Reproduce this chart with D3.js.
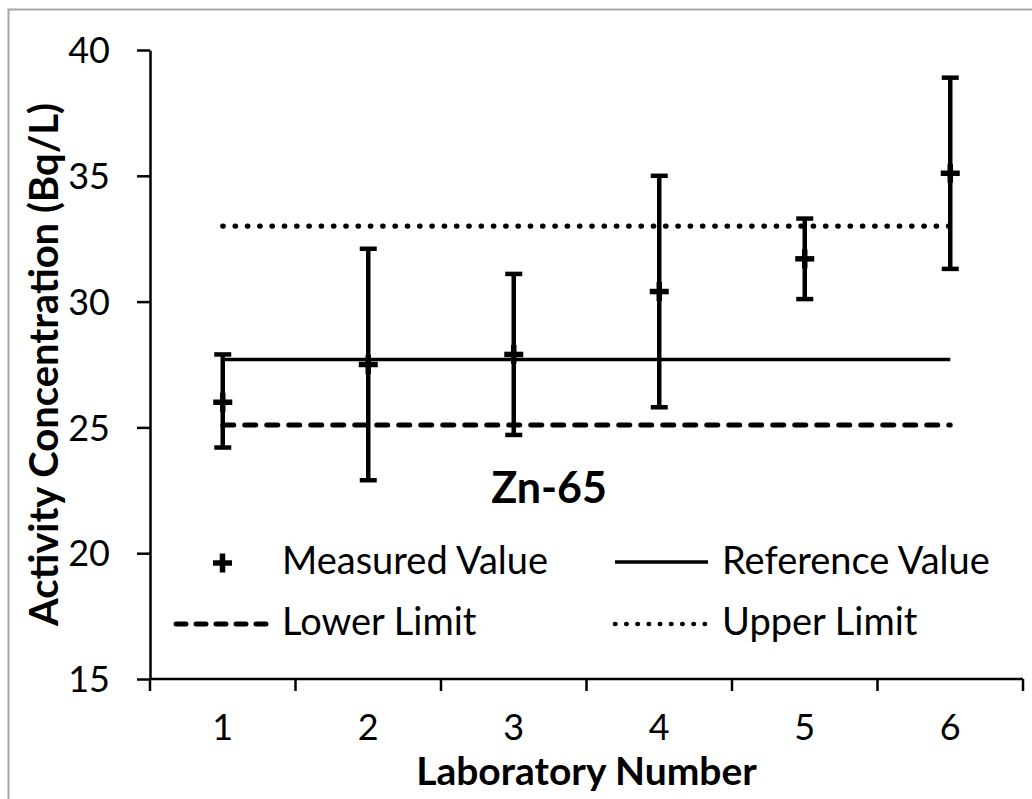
<!DOCTYPE html>
<html>
<head>
<meta charset="utf-8">
<script src="https://cdn.jsdelivr.net/npm/d3@7"></script>
<style>
  html, body { margin: 0; padding: 0; background: #fff; }
  svg { display: block; }
  text { font-family: Lato, "Open Sans", sans-serif; fill: #000; }
</style>
</head>
<body>
<svg id="chart" width="1032" height="799"></svg>
<script>
// Zn-65 inter-laboratory comparison data
const labs = [1, 2, 3, 4, 5, 6];
const measured = [26.0, 27.5, 27.9, 30.4, 31.7, 35.1];
const errHigh = [27.9, 32.1, 31.1, 35.0, 33.3, 38.9];
const errLow = [24.2, 22.9, 24.7, 25.8, 30.1, 31.3];
const referenceValue = 27.7;
const lowerLimit = 25.1;
const upperLimit = 33.0;
const yTicks = [15, 20, 25, 30, 35, 40];

const svg = d3.select("#chart");
const margin = { left: 150, right: 9, top: 50, bottom: 120 };
const W = 1032, H = 799;

// outer frame
svg.append("rect")
  .attr("x", 8.5).attr("y", 9.5)
  .attr("width", 1040).attr("height", 820)
  .attr("fill", "none").attr("stroke", "#a6a6a6").attr("stroke-width", 2);

const x = d3.scaleBand()
  .domain(labs)
  .range([margin.left, W - margin.right])
  .paddingInner(0).paddingOuter(0);

const y = d3.scaleLinear()
  .domain([15, 40])
  .range([H - margin.bottom, margin.top]);

const cx = d => x(d) + x.bandwidth() / 2;

// Y axis
const yAxis = svg.append("g")
  .attr("transform", `translate(${margin.left},0)`)
  .call(d3.axisLeft(y).tickValues(yTicks).tickSize(13).tickPadding(27).tickSizeOuter(0));
yAxis.select(".domain").attr("stroke", "#000").attr("stroke-width", 2.5);
yAxis.selectAll(".tick line").attr("stroke", "#000").attr("stroke-width", 2.5);
yAxis.selectAll(".tick text").style("font-size", "36px").attr("dy", "0.35em");

// X axis: ticks on category boundaries, labels at centers
const xAxisY = y(15);
const xg = svg.append("g").attr("transform", `translate(0,${xAxisY})`);
xg.append("line")
  .attr("x1", margin.left).attr("x2", W - margin.right)
  .attr("stroke", "#000").attr("stroke-width", 2.5);
const boundaries = labs.map(d => x(d)).concat([x(labs[labs.length - 1]) + x.bandwidth()]);
xg.selectAll("line.tk").data(boundaries).join("line")
  .attr("class", "tk")
  .attr("x1", d => d).attr("x2", d => d)
  .attr("y1", 0).attr("y2", 12)
  .attr("stroke", "#000").attr("stroke-width", 2.5);
xg.selectAll("text.lab").data(labs).join("text")
  .attr("class", "lab")
  .attr("x", d => cx(d)).attr("y", 61)
  .attr("text-anchor", "middle")
  .style("font-size", "36px")
  .text(d => d);

// Horizontal reference lines spanning first to last laboratory
const x0 = cx(labs[0]), x1 = cx(labs[labs.length - 1]);
svg.append("line")
  .attr("x1", x0).attr("x2", x1)
  .attr("y1", y(referenceValue)).attr("y2", y(referenceValue))
  .attr("stroke", "#000").attr("stroke-width", 3.5);
svg.append("line")
  .attr("x1", x0).attr("x2", x1)
  .attr("y1", y(lowerLimit)).attr("y2", y(lowerLimit))
  .attr("stroke", "#000").attr("stroke-width", 5)
  .attr("stroke-linecap", "round")
  .attr("stroke-dasharray", "11 11");
svg.append("line")
  .attr("x1", x0).attr("x2", x1)
  .attr("y1", y(upperLimit)).attr("y2", y(upperLimit))
  .attr("stroke", "#000").attr("stroke-width", 5.2)
  .attr("stroke-linecap", "round")
  .attr("stroke-dasharray", "0.5 11.8");

// Error bars
const bars = svg.append("g");
labs.forEach((d, i) => {
  const px = cx(d);
  bars.append("line")
    .attr("x1", px).attr("x2", px)
    .attr("y1", y(errHigh[i])).attr("y2", y(errLow[i]))
    .attr("stroke", "#000").attr("stroke-width", 4.5);
  [errHigh[i], errLow[i]].forEach(v => {
    bars.append("line")
      .attr("x1", px - 8.5).attr("x2", px + 8.5)
      .attr("y1", y(v)).attr("y2", y(v))
      .attr("stroke", "#000").attr("stroke-width", 4.5);
  });
  // plus marker for the measured value
  bars.append("line")
    .attr("x1", px - 9.5).attr("x2", px + 9.5)
    .attr("y1", y(measured[i])).attr("y2", y(measured[i]))
    .attr("stroke", "#000").attr("stroke-width", 5.5);
  bars.append("line")
    .attr("x1", px).attr("x2", px)
    .attr("y1", y(measured[i]) - 9.5).attr("y2", y(measured[i]) + 9.5)
    .attr("stroke", "#000").attr("stroke-width", 5.5);
});

// Nuclide label
svg.append("text")
  .attr("x", 549).attr("y", 503)
  .attr("text-anchor", "middle")
  .style("font-size", "43px").style("font-weight", "bold")
  .text("Zn-65");

// Legend
const leg = svg.append("g");
const row1 = 561, row2 = 622;
const legFont = "38px";
leg.append("line").attr("x1", 213).attr("x2", 232).attr("y1", row1 + 2).attr("y2", row1 + 2)
  .attr("stroke", "#000").attr("stroke-width", 5.5);
leg.append("line").attr("x1", 222.5).attr("x2", 222.5).attr("y1", row1 + 2 - 9.5).attr("y2", row1 + 2 + 9.5)
  .attr("stroke", "#000").attr("stroke-width", 5.5);
leg.append("text").attr("x", 282).attr("y", row1).attr("dy", "0.35em")
  .style("font-size", legFont).text("Measured Value");

leg.append("line").attr("x1", 615).attr("x2", 708).attr("y1", row1 + 1).attr("y2", row1 + 1)
  .attr("stroke", "#000").attr("stroke-width", 3.5);
leg.append("text").attr("x", 722).attr("y", row1).attr("dy", "0.35em")
  .style("font-size", legFont).text("Reference Value");

leg.append("line").attr("x1", 176).attr("x2", 270).attr("y1", row2 + 2).attr("y2", row2 + 2)
  .attr("stroke", "#000").attr("stroke-width", 5)
  .attr("stroke-linecap", "round").attr("stroke-dasharray", "10 10");
leg.append("text").attr("x", 282).attr("y", row2).attr("dy", "0.35em")
  .style("font-size", legFont).text("Lower Limit");

leg.append("line").attr("x1", 615).attr("x2", 705).attr("y1", row2 + 2).attr("y2", row2 + 2)
  .attr("stroke", "#000").attr("stroke-width", 4.5)
  .attr("stroke-linecap", "round").attr("stroke-dasharray", "0.5 10.7");
leg.append("text").attr("x", 722).attr("y", row2).attr("dy", "0.35em")
  .style("font-size", legFont).text("Upper Limit");

// Axis titles
svg.append("text")
  .attr("x", (margin.left + W - margin.right) / 2).attr("y", 785)
  .attr("text-anchor", "middle")
  .style("font-size", "39px").style("font-weight", "bold")
  .text("Laboratory Number");

svg.append("text")
  .attr("transform", `translate(58,${(y(15) + y(40)) / 2}) rotate(-90)`)
  .attr("text-anchor", "middle")
  .style("font-size", "40px").style("font-weight", "bold")
  .text("Activity Concentration (Bq/L)");
</script>
</body>
</html>
